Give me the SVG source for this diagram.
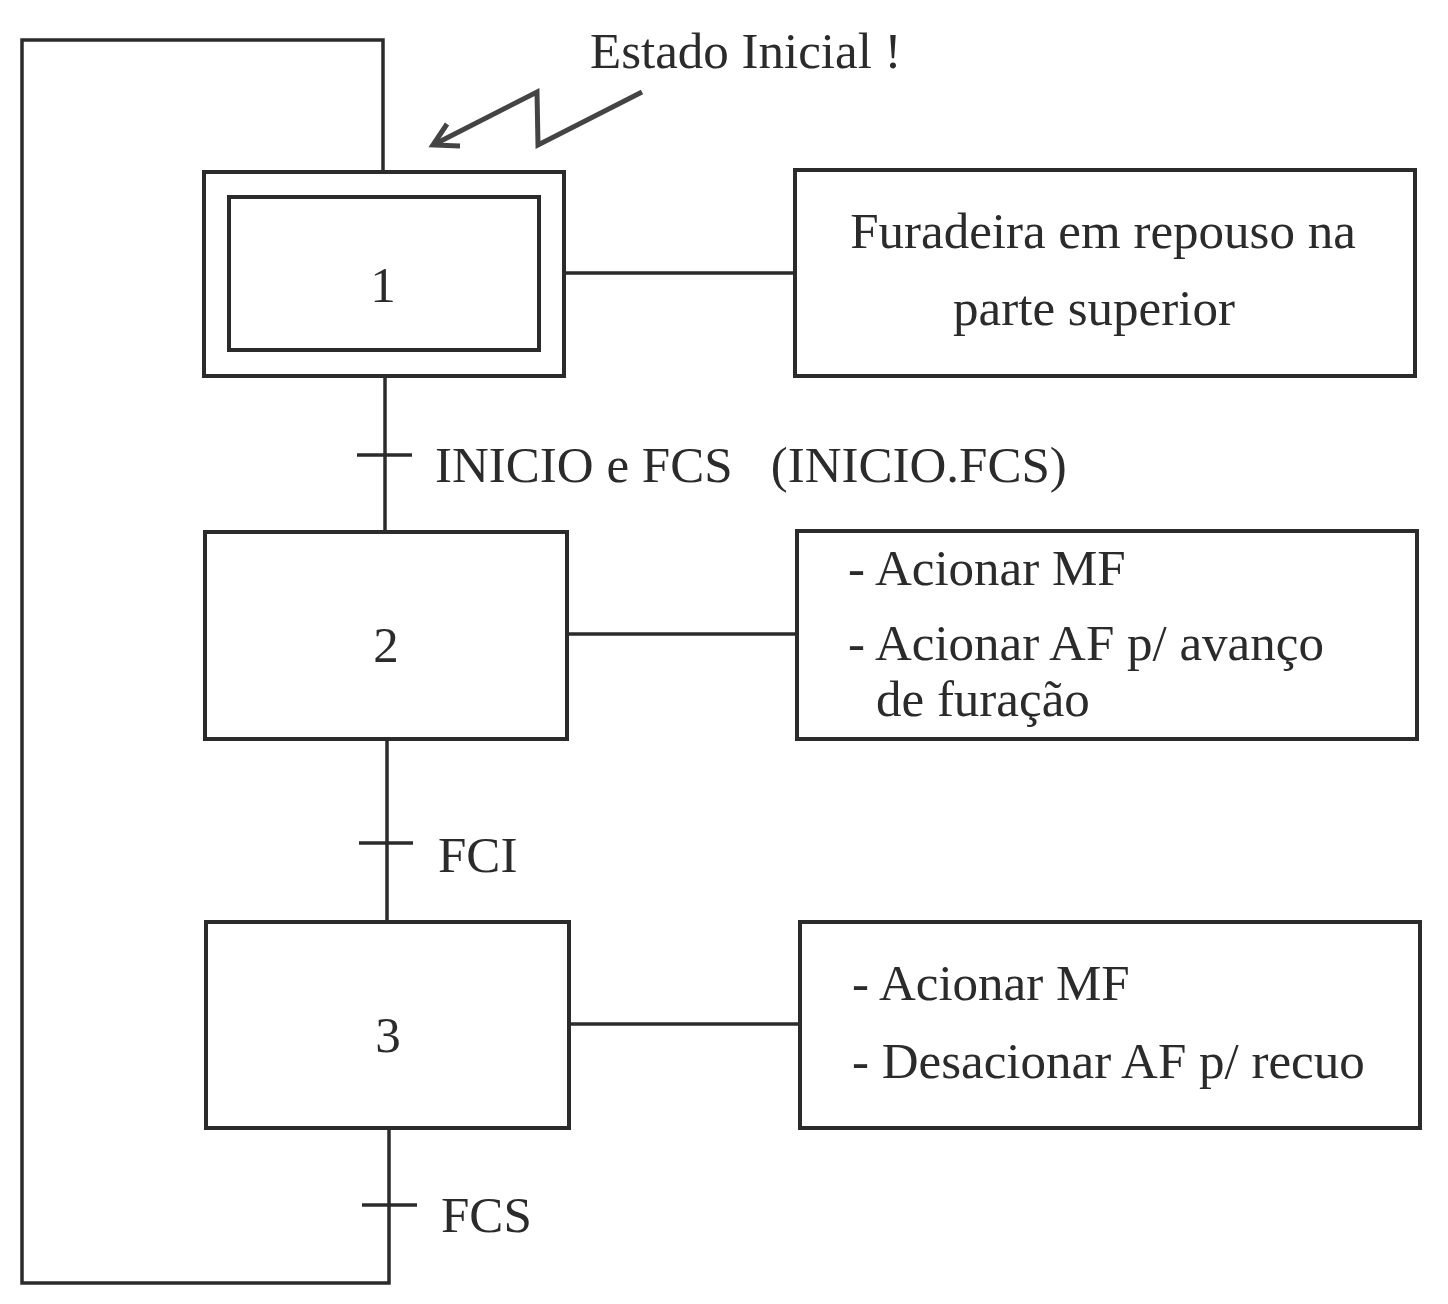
<svg xmlns="http://www.w3.org/2000/svg" width="1448" height="1304" viewBox="0 0 1448 1304">
<style>
.box{fill:none;stroke:#2b2b2b;stroke-width:4}
.ln{fill:none;stroke:#2b2b2b;stroke-width:3.5}
.t{font-family:"Liberation Serif","Times New Roman",serif;font-size:51px;fill:#2b2b2b}
.c{text-anchor:middle}
</style>
<rect width="1448" height="1304" fill="#ffffff"/>
<g id="connectors">
<polyline class="ln" points="383,172 383,40 22,40 22,1283 389,1283 389,1128"/>
<line class="ln" x1="385" y1="376" x2="385" y2="533"/>
<line class="ln" x1="357" y1="455" x2="412" y2="455"/>
<line class="ln" x1="387" y1="739" x2="387" y2="922"/>
<line class="ln" x1="359" y1="843" x2="413" y2="843"/>
<line class="ln" x1="362" y1="1205" x2="417" y2="1205"/>
<line class="ln" x1="564" y1="273" x2="795" y2="273"/>
<line class="ln" x1="567" y1="634" x2="797" y2="634"/>
<line class="ln" x1="569" y1="1024" x2="800" y2="1024"/>
</g>
<g id="initial-label">
<text class="t" x="590" y="68">Estado Inicial !</text>
<polyline points="642,92 538,145 537,92 435,144" fill="none" stroke="#444" stroke-width="5" stroke-linejoin="miter"/>
<polyline points="447,124 433,145 460,146" fill="none" stroke="#444" stroke-width="5"/>
</g>
<g id="step1">
<rect class="box" x="204" y="172" width="360" height="204"/>
<rect class="box" x="229" y="197" width="310" height="153"/>
<text class="t c" x="383" y="302">1</text>
</g>
<g id="action1">
<rect class="box" x="795" y="170" width="620" height="206"/>
<text class="t c" x="1103" y="248">Furadeira em repouso na</text>
<text class="t c" x="1094" y="325">parte superior</text>
</g>
<g id="t1"><text class="t" x="435" y="482" xml:space="preserve">INICIO e FCS   (INICIO.FCS)</text></g>
<g id="step2">
<rect class="box" x="205" y="532" width="362" height="207"/>
<text class="t c" x="386" y="662">2</text>
</g>
<g id="action2">
<rect class="box" x="797" y="531" width="620" height="208"/>
<text class="t" x="848" y="585">- Acionar MF</text>
<text class="t" x="848" y="660">- Acionar AF p/ avanço</text>
<text class="t" x="876" y="716">de furação</text>
</g>
<g id="t2"><text class="t" x="438" y="872">FCI</text></g>
<g id="step3">
<rect class="box" x="206" y="922" width="363" height="206"/>
<text class="t c" x="388" y="1052">3</text>
</g>
<g id="action3">
<rect class="box" x="800" y="922" width="620" height="206"/>
<text class="t" x="852" y="1000">- Acionar MF</text>
<text class="t" x="852" y="1078">- Desacionar AF p/ recuo</text>
</g>
<g id="t3"><text class="t" x="441" y="1232">FCS</text></g>
</svg>
